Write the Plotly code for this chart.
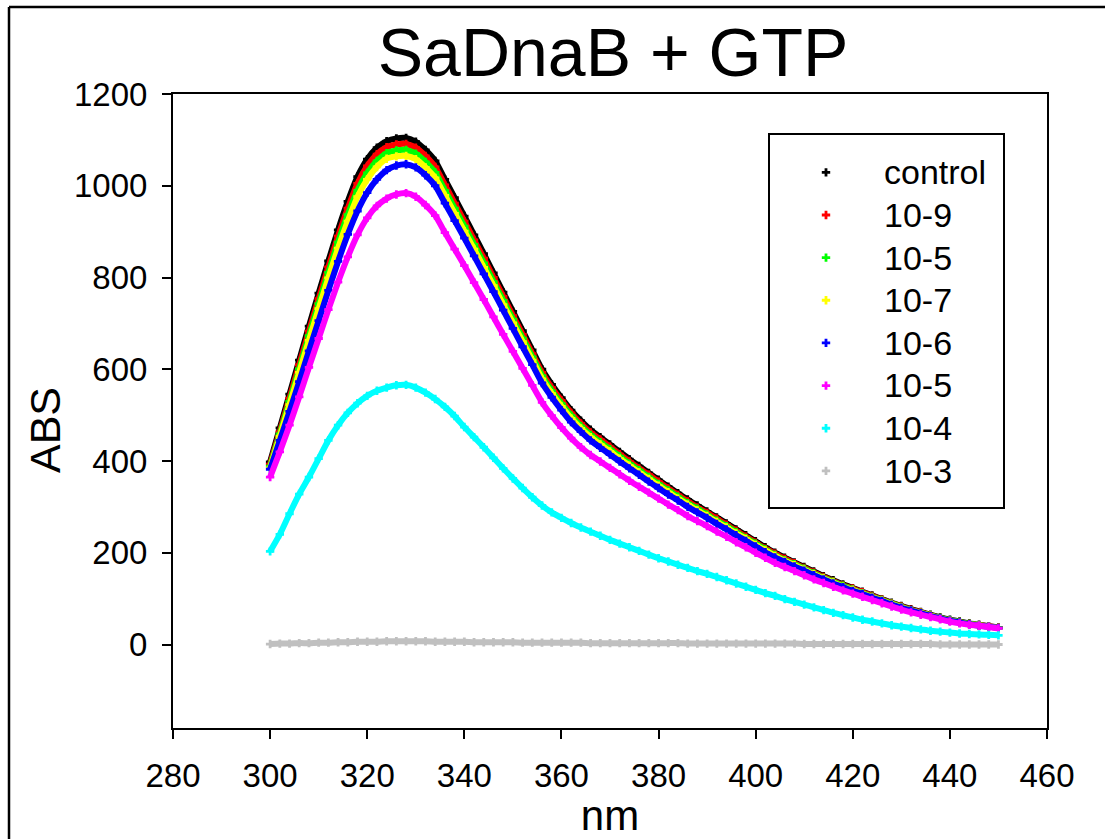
import plotly.graph_objects as go

# wavelength grid (nm)
wavelength = list(range(300, 451, 2))

control = [398, 472, 546, 620, 694, 766, 836, 904, 966, 1020, 1058, 1083, 1097, 1103, 1104, 1096,
           1078, 1054, 1014, 974, 934, 893, 852, 810, 768, 726, 684, 642, 600, 567, 538, 511,
           488, 468, 452, 436, 420, 404, 389, 374, 359, 344, 330, 316, 303, 290, 277, 264,
           251, 238, 225, 212, 200, 189, 179, 169, 159, 149, 140, 131, 123, 115, 107, 99,
           91, 84, 77, 71, 65, 59, 54, 50, 46, 43, 40, 37]

c_10_9 = [393, 464, 537, 610, 683, 754, 823, 890, 951, 1005, 1043, 1069, 1084, 1090, 1091, 1083,
          1065, 1041, 1002, 962, 923, 882, 842, 800, 759, 717, 676, 634, 593, 560, 532, 505,
          482, 462, 447, 431, 415, 399, 384, 370, 355, 340, 326, 312, 299, 287, 274, 261,
          248, 235, 222, 209, 198, 187, 177, 167, 157, 147, 138, 129, 122, 114, 106, 98,
          90, 83, 76, 70, 64, 58, 53, 49, 45, 42, 40, 37]

c_10_5a = [389, 459, 530, 601, 673, 743, 811, 877, 937, 990, 1028, 1054, 1071, 1077, 1078, 1070,
           1052, 1029, 990, 951, 912, 872, 832, 791, 750, 709, 668, 627, 586, 553, 525, 499,
           476, 457, 441, 426, 410, 394, 380, 365, 350, 336, 322, 308, 296, 283, 270, 258,
           245, 232, 220, 207, 195, 184, 175, 165, 155, 145, 137, 128, 120, 112, 104, 97,
           89, 82, 75, 69, 63, 58, 53, 49, 45, 42, 39, 36]

c_10_7 = [385, 454, 523, 593, 663, 732, 799, 864, 923, 976, 1014, 1041, 1059, 1064, 1065, 1058,
          1040, 1017, 979, 940, 901, 862, 822, 782, 741, 701, 660, 620, 579, 547, 519, 493,
          471, 452, 436, 421, 405, 390, 375, 361, 346, 332, 318, 305, 292, 280, 267, 255,
          242, 230, 217, 205, 193, 182, 173, 163, 153, 144, 135, 126, 119, 111, 103, 96,
          88, 81, 74, 69, 63, 57, 52, 48, 44, 42, 39, 36]

c_10_6 = [382, 445, 508, 573, 640, 706, 772, 835, 894, 945, 985, 1014, 1034, 1044, 1047, 1040,
          1023, 1000, 962, 924, 886, 847, 808, 769, 729, 689, 649, 610, 570, 539, 511, 485,
          464, 445, 429, 414, 399, 384, 370, 355, 341, 327, 314, 300, 288, 276, 263, 251,
          238, 226, 214, 201, 190, 180, 170, 161, 151, 142, 133, 125, 117, 110, 102, 95,
          87, 80, 74, 68, 62, 57, 52, 48, 44, 41, 39, 36]

c_10_5b = [365, 420, 478, 540, 604, 667, 730, 790, 845, 893, 930, 956, 972, 981, 984, 976,
           958, 935, 898, 862, 826, 789, 752, 714, 676, 639, 602, 565, 528, 499, 473, 450,
           430, 413, 399, 385, 371, 357, 344, 331, 318, 305, 293, 280, 269, 258, 246, 235,
           223, 212, 200, 189, 178, 169, 160, 151, 142, 134, 126, 118, 111, 104, 97, 90,
           83, 76, 70, 65, 60, 55, 50, 46, 43, 41, 38, 35]

c_10_4 = [203, 240, 285, 328, 365, 405, 445, 478, 505, 526, 542, 553, 560, 565, 566, 560,
          549, 535, 518, 498, 474, 452, 430, 407, 384, 362, 341, 321, 303, 288, 276, 265,
          255, 246, 237, 228, 220, 212, 204, 196, 188, 181, 174, 167, 160, 154, 147, 140,
          133, 126, 119, 112, 106, 99, 93, 87, 81, 75, 69, 64, 59, 54, 50, 46,
          42, 39, 36, 33, 30, 28, 26, 24, 23, 22, 21, 20]

c_10_3 = [1, 2, 2, 3, 3, 4, 4, 5, 5, 6, 6, 6, 7, 7, 7, 7,
          7, 6, 6, 6, 6, 5, 5, 5, 5, 5, 4, 4, 4, 4, 4, 4,
          4, 3, 3, 3, 3, 3, 3, 3, 3, 3, 3, 2, 2, 2, 2, 2,
          2, 2, 2, 2, 2, 2, 2, 1, 1, 1, 1, 1, 1, 1, 1, 1,
          1, 1, 1, 1, 1, 0, 0, 0, 0, 0, 0, 0]

series_names = ["control", "10-9", "10-5", "10-7", "10-6", "10-5", "10-4", "10-3"]
series_values = [control, c_10_9, c_10_5a, c_10_7, c_10_6, c_10_5b, c_10_4, c_10_3]
series_colors = ["#000000", "#ff0000", "#00ff00", "#ffff00", "#0000ff", "#ff00ff", "#00ffff", "#c0c0c0"]

y_ticks = [0, 200, 400, 600, 800, 1000, 1200]
x_ticks = [280, 300, 320, 340, 360, 380, 400, 420, 440, 460]

FONT = "Liberation Sans, Arial, Helvetica, sans-serif"

fig = go.Figure()
for i, (name, vals, col) in enumerate(zip(series_names, series_values, series_colors)):
    grp = f"s{i}"
    fig.add_trace(go.Scatter(
        x=wavelength, y=vals, mode="lines", legendgroup=grp, showlegend=False,
        line=dict(color=col, width=6, shape="spline", smoothing=0.6), hoverinfo="skip"))
    fig.add_trace(go.Scatter(
        x=wavelength, y=vals, mode="markers", legendgroup=grp,
        name=f'<span style="font-size:34px">{name}</span>',
        marker=dict(symbol="cross", size=7, color=col, line=dict(width=0))))

# plot area: x 173..1047, y 94..728
L, R, T, B = 173, 1047, 94, 728
W, H = 1105, 839
def px(xp):
    return (xp - L) / (R - L)
def py(yp):
    return (B - yp) / (B - T)

shapes = [
    # legend frame
    dict(type="rect", xref="paper", yref="paper", x0=px(769), x1=px(1004), y0=py(508), y1=py(134),
         line=dict(color="black", width=2), fillcolor="rgba(0,0,0,0)", layer="above"),
    # outer figure border (top and left)
    dict(type="line", xref="paper", yref="paper", x0=px(9), x1=px(W + 5), y0=py(7), y1=py(7),
         line=dict(color="black", width=2.5)),
    dict(type="line", xref="paper", yref="paper", x0=px(9), x1=px(9), y0=py(7), y1=py(H + 5),
         line=dict(color="black", width=2.5)),
]

annotations = [
    dict(text="ABS", xref="paper", yref="paper", x=px(45), y=py(430),
         xanchor="center", yanchor="middle", textangle=-90, showarrow=False,
         font=dict(size=43, family=FONT, color="black")),
]

fig.update_layout(
    width=W, height=H,
    margin=dict(l=L, r=W - R, t=T, b=H - B, autoexpand=False),
    paper_bgcolor="white", plot_bgcolor="white",
    font=dict(family=FONT, color="black"),
    title=dict(text="SaDnaB + GTP", x=613 / W, xanchor="center",
               y=1 - 28 / H, yanchor="top", yref="container",
               font=dict(size=68, family=FONT, color="black")),
    showlegend=True,
    legend=dict(x=px(768), y=py(146), xanchor="left", yanchor="top",
                bgcolor="rgba(0,0,0,0)", borderwidth=0, itemwidth=106,
                font=dict(size=30.5, family=FONT, color="black"),
                tracegroupgap=0, itemsizing="trace"),
    shapes=shapes,
    annotations=annotations,
)

fig.update_xaxes(range=[280, 460], tickvals=x_ticks, ticktext=[str(v) for v in x_ticks],
                 showline=True, linecolor="black", linewidth=2, mirror=True,
                 ticks="outside", ticklen=9, tickwidth=2, tickcolor="black",
                 showgrid=False, zeroline=False, ticklabelstandoff=8,
                 tickfont=dict(size=33, family=FONT, color="black"),
                 title=dict(text="nm", font=dict(size=42, family=FONT, color="black"), standoff=10))
fig.update_yaxes(range=[-182, 1200], tickvals=y_ticks, ticktext=[str(v) for v in y_ticks],
                 showline=True, linecolor="black", linewidth=2, mirror=True,
                 ticks="outside", ticklen=9, tickwidth=2, tickcolor="black",
                 showgrid=False, zeroline=False, ticklabelstandoff=8,
                 tickfont=dict(size=33, family=FONT, color="black"))

fig.write_html("out.html")
